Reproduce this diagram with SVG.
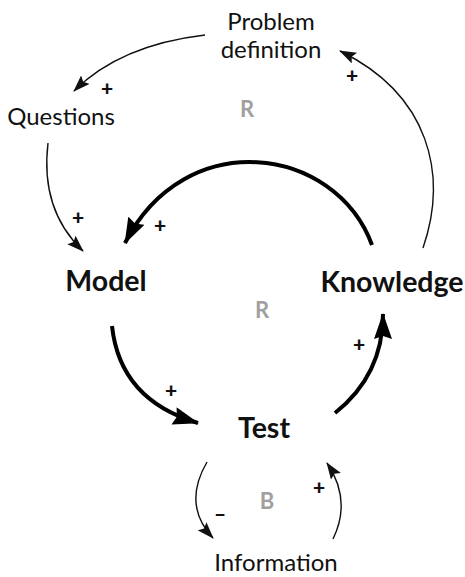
<svg xmlns="http://www.w3.org/2000/svg" width="465" height="577" viewBox="0 0 465 577">
<style>
.lbl{font-family:Lato,"Open Sans",sans-serif;font-size:24px;fill:#111;text-anchor:middle}
.big{font-family:Lato,"Open Sans",sans-serif;font-size:28.5px;font-weight:bold;fill:#111;text-anchor:middle}
.loop{font-family:Lato,"Open Sans",sans-serif;font-size:22px;font-weight:bold;fill:#a0a0a0;text-anchor:middle}
.sign{font-family:Lato,"Open Sans",sans-serif;font-size:21px;font-weight:900;fill:#111;text-anchor:middle}
.thin{fill:none;stroke:#111;stroke-width:1.4;marker-end:url(#ah)}
.thick{fill:none;stroke:#000;stroke-width:4;marker-end:url(#AH)}
</style>
<defs>
<marker id="ah" markerUnits="userSpaceOnUse" markerWidth="17" markerHeight="12" refX="16" refY="6" orient="auto" viewBox="0 0 17 12">
<path d="M0,0 L17,6 L0,12 L3,6 Z" fill="#111"/>
</marker>
<marker id="AH" markerUnits="userSpaceOnUse" markerWidth="26" markerHeight="18" refX="25" refY="9" orient="auto" viewBox="0 0 26 18">
<path d="M0,0 L26,9 L0,18 L3,9 Z" fill="#000"/>
</marker>
</defs>
<g id="connectors">
<path id="c1" class="thin" d="M205,35 Q120,45 74,91"/>
<path id="c2" class="thin" d="M423,248 C448,175 430,95 340,51"/>
<path id="c3" class="thin" d="M48,143 Q40,210 83,251"/>
<path id="c4" class="thick" d="M372,245 C335,145 185,125 125,243"/>
<path id="c5" class="thick" d="M112,326 Q120,400 198,423"/>
<path id="c6" class="thick" d="M335,413 Q383,375 383,314"/>
<path id="c7" class="thin" d="M207,462 Q182,505 213,538"/>
<path id="c8" class="thin" d="M333,539 Q352,500 327,463"/>
</g>
<g id="signs">
<text class="sign" x="107" y="96">+</text>
<text class="sign" x="352" y="83">+</text>
<text class="sign" x="78" y="225">+</text>
<text class="sign" x="160" y="233">+</text>
<text class="sign" x="359" y="352">+</text>
<text class="sign" x="171" y="398">+</text>
<text class="sign" x="319" y="495">+</text>
<text class="sign" x="220" y="521">–</text>
</g>
<g id="loops">
<text class="loop" x="247" y="117">R</text>
<text class="loop" x="262" y="318">R</text>
<text class="loop" x="267" y="509">B</text>
</g>
<g id="n-problem"><text class="lbl" x="271" y="30">Problem</text><text class="lbl" x="271" y="58">definition</text></g>
<g id="n-questions"><text class="lbl" x="61" y="125">Questions</text></g>
<g id="n-model"><text class="big" x="106" y="291">Model</text></g>
<g id="n-knowledge"><text class="big" x="392" y="292">Knowledge</text></g>
<g id="n-test"><text class="big" x="264" y="438">Test</text></g>
<g id="n-information"><text class="lbl" x="276" y="571">Information</text></g>
</svg>
